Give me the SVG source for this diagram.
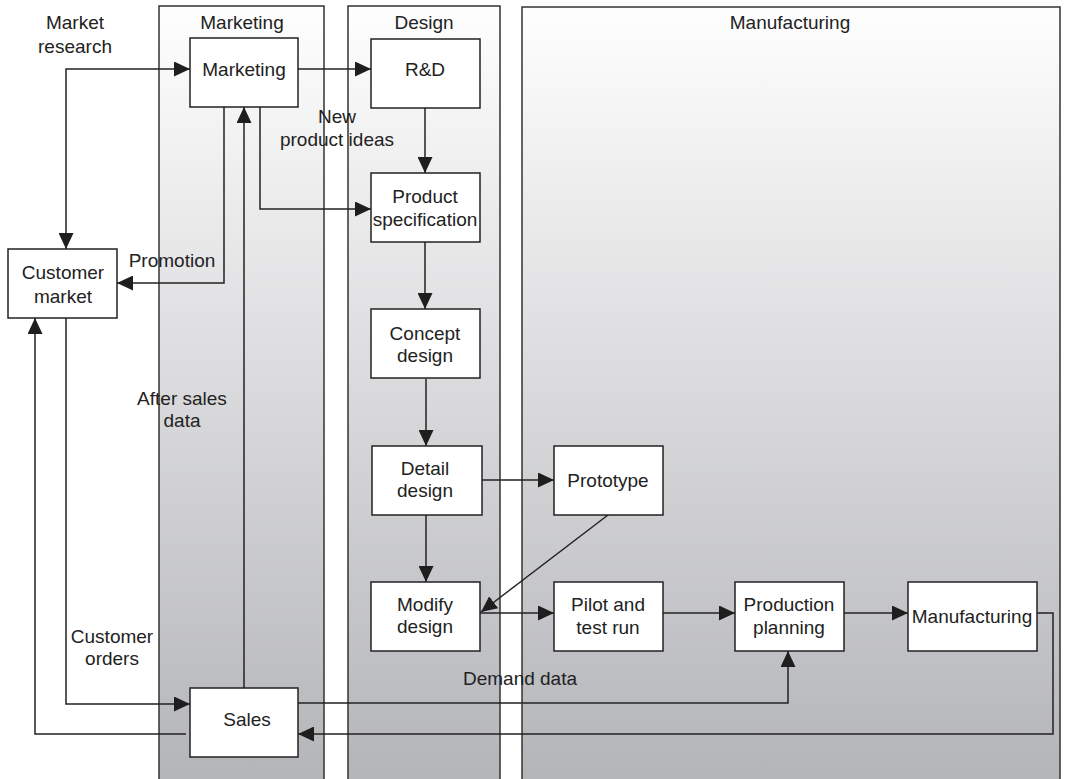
<svg xmlns="http://www.w3.org/2000/svg" width="1065" height="779" viewBox="0 0 1065 779">
<defs>
<linearGradient id="lg" gradientUnits="userSpaceOnUse" x1="0" y1="0" x2="0" y2="779">
<stop offset="0" stop-color="#ffffff"/>
<stop offset="1" stop-color="#b4b5b9"/>
</linearGradient>
<marker id="ah" markerUnits="userSpaceOnUse" markerWidth="16" markerHeight="15" refX="16" refY="7.5" orient="auto-start-reverse">
<path d="M0,0 L16,7.5 L0,15 z" fill="#1e1e1e"/>
</marker>
<style>
.lane{fill:url(#lg);stroke:#333;stroke-width:1.5}
.box{fill:#fff;stroke:#222;stroke-width:1.5}
.t{font-family:"Liberation Sans",Arial,sans-serif;font-size:19px;fill:#222;text-anchor:middle}
.c{fill:none;stroke:#222;stroke-width:1.5;marker-end:url(#ah)}
</style>
</defs>
<g id="lanes">
<g id="lane-marketing"><rect class="lane" x="159" y="6" width="165" height="790"/><text class="t" x="242" y="29">Marketing</text></g>
<g id="lane-design"><rect class="lane" x="348" y="6" width="152" height="790"/><text class="t" x="424" y="29">Design</text></g>
<g id="lane-manufacturing"><rect class="lane" x="522" y="7" width="538" height="790"/><text class="t" x="790" y="29">Manufacturing</text></g>
</g>
<g id="connectors">
<path class="c" d="M190,69 H66 V249" style="marker-start:url(#ah)"/>
<path class="c" d="M298,69 H371"/>
<path class="c" d="M260,107 V209 H371"/>
<path class="c" d="M224,107 V283 H117"/>
<path class="c" d="M244,688 V107"/>
<path class="c" d="M425,108 V173"/>
<path class="c" d="M425,242 V309"/>
<path class="c" d="M426,379 V446"/>
<path class="c" d="M426,515 V582"/>
<path class="c" d="M482,480 H554"/>
<path class="c" d="M608,515 L481,612"/>
<path class="c" d="M480,613 H554"/>
<path class="c" d="M663,613 H735"/>
<path class="c" d="M844,613 H908"/>
<path class="c" d="M1037,613 H1053 V734 H298"/>
<path class="c" d="M298,703 H788 V651"/>
<path class="c" d="M66,318 V704 H190"/>
<path class="c" d="M186,734 H35 V318"/>
</g>
<g id="labels">
<text class="t" x="75" y="29">Market</text>
<text class="t" x="75" y="53">research</text>
<text class="t" x="337" y="123">New</text>
<text class="t" x="337" y="146">product ideas</text>
<text class="t" x="172" y="267">Promotion</text>
<text class="t" x="182" y="405">After sales</text>
<text class="t" x="182" y="427">data</text>
<text class="t" x="112" y="643">Customer</text>
<text class="t" x="112" y="665">orders</text>
<text class="t" x="520" y="685">Demand data</text>
</g>
<g id="node-marketing"><rect class="box" x="190" y="38" width="108" height="69"/><text class="t" x="244" y="76">Marketing</text></g>
<g id="node-rd"><rect class="box" x="371" y="39" width="109" height="69"/><text class="t" x="425" y="76">R&amp;D</text></g>
<g id="node-product-spec"><rect class="box" x="371" y="173" width="109" height="69"/><text class="t" x="425" y="203">Product</text><text class="t" x="425" y="226">specification</text></g>
<g id="node-customer-market"><rect class="box" x="8" y="249" width="109" height="69"/><text class="t" x="63" y="279">Customer</text><text class="t" x="63" y="303">market</text></g>
<g id="node-concept-design"><rect class="box" x="371" y="309" width="109" height="69"/><text class="t" x="425" y="340">Concept</text><text class="t" x="425" y="362">design</text></g>
<g id="node-detail-design"><rect class="box" x="372" y="446" width="110" height="69"/><text class="t" x="425" y="475">Detail</text><text class="t" x="425" y="497">design</text></g>
<g id="node-prototype"><rect class="box" x="554" y="446" width="109" height="69"/><text class="t" x="608" y="487">Prototype</text></g>
<g id="node-modify-design"><rect class="box" x="371" y="582" width="109" height="69"/><text class="t" x="425" y="611">Modify</text><text class="t" x="425" y="633">design</text></g>
<g id="node-pilot"><rect class="box" x="554" y="582" width="109" height="69"/><text class="t" x="608" y="611">Pilot and</text><text class="t" x="608" y="634">test run</text></g>
<g id="node-production-planning"><rect class="box" x="735" y="582" width="109" height="69"/><text class="t" x="789" y="611">Production</text><text class="t" x="789" y="634">planning</text></g>
<g id="node-manufacturing"><rect class="box" x="908" y="582" width="129" height="69"/><text class="t" x="972" y="623">Manufacturing</text></g>
<g id="node-sales"><rect class="box" x="190" y="688" width="108" height="69"/><text class="t" x="247" y="726">Sales</text></g>
</svg>
